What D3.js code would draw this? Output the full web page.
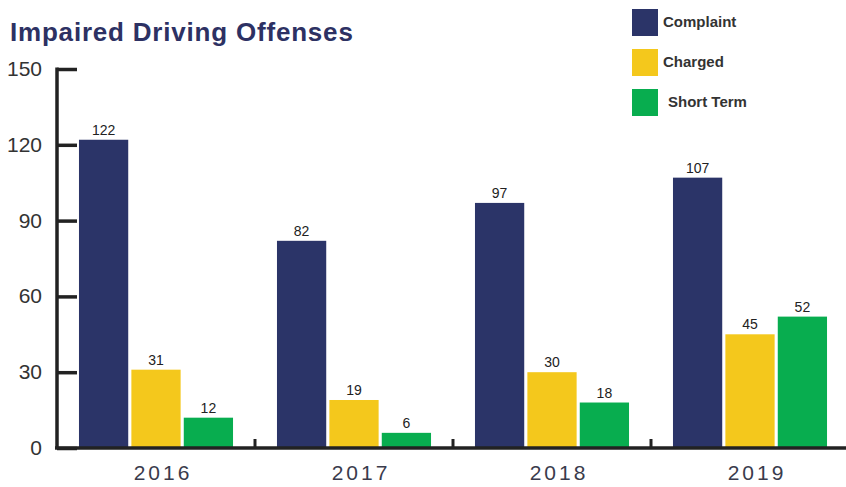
<!DOCTYPE html>
<html>
<head>
<meta charset="utf-8">
<script src="https://cdn.jsdelivr.net/npm/d3@7"></script>
<style>
  html, body { margin: 0; padding: 0; background: #fff; }
  svg { display: block; }
  text { font-family: "Liberation Sans", Arial, sans-serif; }
</style>
</head>
<body>
<svg id="chart" width="846" height="487"></svg>
<script>
// Impaired driving offenses by year
const years = ["2016", "2017", "2018", "2019"];
const seriesNames = ["Complaint", "Charged", "Short Term"];
const complaint = [122, 82, 97, 107];
const charged = [31, 19, 30, 45];
const shortTerm = [12, 6, 18, 52];
const yTicks = [0, 30, 60, 90, 120, 150];
const colors = ["#2b3468", "#f4c81c", "#08ad4f"];

const seriesValues = [complaint, charged, shortTerm];
const rows = years.map((year, i) => ({
  year,
  values: seriesNames.map((name, s) => ({ name, value: seriesValues[s][i] }))
}));

const svg = d3.select("#chart");
const axisColor = "#222";

const x0 = d3.scaleBand().domain(years).range([57, 849])
  .paddingInner(0.222).paddingOuter(0.111);
const x1 = d3.scaleBand().domain(seriesNames).range([0, x0.bandwidth()])
  .paddingInner(0.06);
const y = d3.scaleLinear().domain([0, 150]).range([448, 69]);
const color = d3.scaleOrdinal().domain(seriesNames).range(colors);

// Title
svg.append("text")
  .attr("x", 10).attr("y", 41)
  .attr("font-size", 26).attr("font-weight", "bold")
  .attr("letter-spacing", 0.8)
  .attr("fill", "#2d3163")
  .text("Impaired Driving Offenses");

// Bars
const groups = svg.append("g").selectAll("g")
  .data(rows).join("g")
  .attr("transform", d => `translate(${x0(d.year)},0)`);

groups.selectAll("rect")
  .data(d => d.values).join("rect")
  .attr("x", d => x1(d.name))
  .attr("y", d => y(d.value))
  .attr("width", x1.bandwidth())
  .attr("height", d => y(0) - y(d.value))
  .attr("fill", d => color(d.name));

groups.selectAll("text.val")
  .data(d => d.values).join("text")
  .attr("class", "val")
  .attr("x", d => x1(d.name) + x1.bandwidth() / 2)
  .attr("y", d => y(d.value) - 5)
  .attr("text-anchor", "middle")
  .attr("font-size", 14)
  .attr("fill", "#222")
  .text(d => d.value);

// Y axis: vertical line with ticks pointing into the plot
const yAxis = svg.append("g")
  .attr("transform", "translate(57,0)")
  .call(d3.axisRight(y).tickValues(yTicks).tickSize(20).tickFormat(""));
yAxis.select(".domain").remove();
yAxis.selectAll(".tick line").attr("stroke", axisColor).attr("stroke-width", 3.5);
svg.append("line")
  .attr("x1", 57).attr("x2", 57)
  .attr("y1", y(150) - 1.5).attr("y2", y(0))
  .attr("stroke", axisColor).attr("stroke-width", 3.5);

svg.append("g").selectAll("text")
  .data(yTicks).join("text")
  .attr("x", 42)
  .attr("y", d => y(d) + 7)
  .attr("text-anchor", "end")
  .attr("font-size", 21)
  .attr("fill", "#333")
  .text(d => d);

// X axis baseline with separators between year groups
svg.append("line")
  .attr("x1", 55).attr("x2", 846)
  .attr("y1", y(0)).attr("y2", y(0))
  .attr("stroke", axisColor).attr("stroke-width", 3.5);

const step = x0.step();
svg.append("g").selectAll("line")
  .data(years.slice(1)).join("line")
  .attr("x1", d => x0(d) - (step - x0.bandwidth()) / 2)
  .attr("x2", d => x0(d) - (step - x0.bandwidth()) / 2)
  .attr("y1", y(0) - 9).attr("y2", y(0))
  .attr("stroke", axisColor).attr("stroke-width", 3);

svg.append("g").selectAll("text")
  .data(years).join("text")
  .attr("x", d => x0(d) + x0.bandwidth() / 2 + 7)
  .attr("y", 480)
  .attr("text-anchor", "middle")
  .attr("font-size", 21)
  .attr("letter-spacing", 3)
  .attr("fill", "#3a3b4c")
  .text(d => d);

// Legend
const legend = svg.append("g").selectAll("g")
  .data(seriesNames).join("g")
  .attr("transform", (d, i) => `translate(632,${9 + i * 40})`);
legend.append("rect")
  .attr("width", 26).attr("height", 27)
  .attr("fill", d => color(d));
legend.append("text")
  .attr("x", (d, i) => i === 2 ? 36 : 31)
  .attr("y", 18)
  .attr("font-size", 15).attr("font-weight", "bold")
  .attr("fill", "#333")
  .text(d => d);
</script>
</body>
</html>
